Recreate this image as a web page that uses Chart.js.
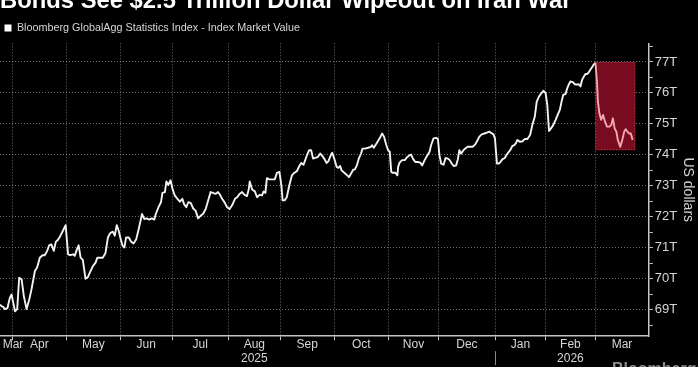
<!DOCTYPE html>
<html><head><meta charset="utf-8">
<script src="https://cdn.jsdelivr.net/npm/chart.js@4.4.1/dist/chart.umd.min.js"></script>
<style>
html,body{margin:0;padding:0;background:#000;overflow:hidden;}
#wrap{position:relative;width:698px;height:367px;background:#000;}
</style></head><body>
<div id="wrap"><canvas id="c"></canvas></div>
<script>
// ---- data (x = position in trading days since the start of the window) ----
const tradingDay = [0,0.7,1.3,2.0,3.0,4.0,4.7,5.4,6.1,7.0,
7.8,8.8,9.7,10.8,11.9,12.8,14.2,15.1,16.2,17.3,
18.2,19.2,20.0,20.9,21.9,22.7,23.6,24.6,25.6,26.7,
27.7,28.6,29.7,30.4,31.3,32.0,32.8,33.7,34.8,35.8,
36.7,37.8,38.9,39.6,40.5,41.8,42.9,43.9,44.8,45.9,
46.7,47.5,48.3,49.1,49.9,50.6,51.3,52.4,53.3,54.3,
55.4,56.3,57.8,58.7,59.6,60.7,61.8,62.8,63.4,64.5,
65.5,66.1,67.1,67.7,68.5,69.4,70.2,71.1,72.2,73.2,
74.2,74.9,75.8,76.6,77.6,78.6,79.6,80.6,81.7,82.6,
83.7,84.7,85.7,86.6,87.7,88.7,89.5,90.4,91.5,92.4,
93.4,94.5,95.6,96.5,97.5,98.5,99.5,100.5,101.2,101.6,
102.6,103.7,104.6,105.6,106.6,107.3,108.0,108.6,109.6,110.7,
111.8,112.7,113.7,114.5,115.0,115.8,116.7,117.7,118.8,119.7,
120.8,121.8,122.6,123.5,124.2,125.0,125.8,126.6,127.4,128.2,
129.3,130.3,130.9,131.9,132.9,133.6,134.7,135.2,136.0,137.0,
137.7,138.4,139.0,140.1,141.0,142.0,142.8,143.7,144.4,145.2,
146.0,146.9,147.5,148.5,149.8,150.9,151.4,152.1,153.2,154.6,
155.5,156.3,157.2,157.9,158.6,159.2,159.9,160.9,161.7,162.0,
162.6,163.6,164.7,165.7,166.7,167.3,168.0,169.0,170.1,171.0,
171.8,172.8,173.8,174.8,175.4,176.4,177.5,178.2,178.8,179.5,
180.5,181.3,182.2,183.0,183.8,184.6,185.6,186.3,186.9,187.6,
188.3,189.2,190.3,191.4,192.3,193.3,194.1,195.0,196.0,197.1,
198.1,199.1,200.0,200.8,201.4,202.2,203.1,203.8,204.5,205.4,
206.2,206.8,207.6,208.5,209.2,209.9,210.5,211.6,212.6,213.5,
214.6,215.7,216.6,217.6,218.4,219.3,220.3,221.1,222.0,222.7,
223.4,224.0,225.1,226.1,227.0,227.8,228.5,229.2,230.1,230.8,
231.5,232.1,233.1,233.9,234.8,235.5,236.2,236.9,237.6,238.2,
238.9,239.6,240.2,240.9,241.6,242.3,242.9,243.3,243.9,244.6,
245.4,246.1,247.0,247.9,248.7,249.4,250.1,250.8,251.4,252.4,
253.2,254.0,254.6,255.1,255.9,256.7,257.4];

const marketValueT = [69.16,69.11,69.09,69.02,69.05,69.38,69.49,69.22,68.95,69.02,
70.03,69.98,69.44,69.02,69.33,69.65,70.25,70.36,70.68,70.76,
70.76,70.90,71.08,71.11,70.90,71.19,71.26,71.39,71.55,71.73,
70.79,70.76,70.79,70.74,70.95,71.08,70.68,70.61,70.00,70.06,
70.22,70.41,70.52,70.68,70.68,70.68,70.82,71.33,71.47,71.52,
71.39,71.73,71.55,71.28,71.06,71.01,71.33,71.33,71.20,71.14,
71.27,71.56,72.09,71.93,71.95,71.91,71.95,71.91,72.09,72.31,
72.47,72.77,72.80,73.14,73.03,73.18,72.90,72.69,72.58,72.49,
72.58,72.41,72.31,72.47,72.45,72.27,72.20,71.95,72.04,72.09,
72.25,72.53,72.80,72.77,72.74,72.80,72.71,72.58,72.45,72.31,
72.25,72.38,72.58,72.63,72.74,72.80,72.71,72.67,72.88,73.14,
72.88,72.82,72.63,72.71,72.69,72.82,72.77,73.25,73.21,73.21,
73.21,73.42,73.45,73.01,72.53,72.53,72.63,73.01,73.34,73.42,
73.47,73.64,73.74,73.68,73.83,74.01,74.15,74.15,73.88,73.90,
73.93,74.04,73.99,73.88,73.74,73.79,74.01,74.07,73.88,73.61,
73.58,73.64,73.50,73.42,73.36,73.28,73.39,73.52,73.53,73.66,
73.88,74.04,74.20,74.20,74.23,74.26,74.31,74.23,74.37,74.55,
74.69,74.58,74.31,74.15,74.10,73.45,73.42,73.42,73.34,73.61,
73.75,73.83,73.83,73.93,73.99,74.01,73.88,73.77,73.77,73.75,
73.66,73.83,73.97,74.10,74.31,74.53,74.55,74.51,73.99,73.72,
73.68,73.90,73.88,73.83,73.72,73.64,73.66,73.86,74.15,74.04,
74.12,74.20,74.26,74.26,74.26,74.33,74.44,74.58,74.66,74.69,
74.72,74.75,74.70,74.66,74.53,73.72,73.72,73.79,73.86,73.90,
74.01,74.07,74.15,74.29,74.31,74.37,74.48,74.42,74.44,74.51,
74.51,74.64,74.96,75.23,75.72,75.88,75.99,76.07,75.99,75.61,
74.77,74.83,74.96,75.13,75.31,75.45,75.72,75.94,75.96,76.15,
76.28,76.37,76.35,76.28,76.27,76.28,76.21,76.43,76.53,76.61,
76.61,76.67,76.75,76.83,76.92,76.97,76.37,75.72,75.34,75.13,
75.29,75.09,74.91,74.91,74.96,75.18,74.85,74.75,74.48,74.26,
74.48,74.75,74.83,74.77,74.69,74.69,74.48];

const monthNames = ['Mar','Apr','May','Jun','Jul','Aug','Sep','Oct','Nov','Dec','Jan','Feb','Mar'];
const yearNames = ['','','','','','2025','','','','','','2026',''];
const monthBounds = [0,5,27,49,70,93,114,136,158,178.5,201.5,222,242.2,264];
const yTickValues = [68.5,69,69.5,70,70.5,71,71.5,72,72.5,73,73.5,74,74.5,75,75.5,76,76.5,77,77.5];

const titleText = 'Bonds See $2.5 Trillion Dollar Wipeout on Iran War';
const seriesName = 'Bloomberg GlobalAgg Statistics Index - Index Market Value';
const yAxisTitle = 'US dollars';
const watermark = 'Bloomberg';

// war period highlight (days / values)
const warStartDay = 242.2, warBoxEndDay = 258.5, warBoxHigh = 77.0, warBoxLow = 74.15;

// ---- styling ----
const FONT = 'Liberation Sans';
const gridCol = 'rgba(150,150,150,0.75)';
const axisCol = '#c4c4c4';
const textCol = '#d6d6d6';
const lineWhite = '#f2f2f2';
const linePink = '#f4a7b1';
const none = 'rgba(0,0,0,0)';

const boundaryTicks = monthBounds.slice(1, -1);
const labelTicks = monthNames.map((m, i) => {
  let mid = (monthBounds[i] + monthBounds[i + 1]) / 2;
  if (i === 0) mid = Math.max(mid, 5.3);
  return { value: mid, label: yearNames[i] ? [m, yearNames[i]] : m };
});
const isBoundary = v => boundaryTicks.some(b => Math.abs(b - v) < 1e-6);

const warBoxPlugin = {
  id: 'warBox',
  beforeDatasetsDraw(chart) {
    const { ctx, chartArea, scales: { x, y } } = chart;
    const x1 = x.getPixelForValue(warStartDay), x2 = x.getPixelForValue(warBoxEndDay);
    const y1 = y.getPixelForValue(warBoxHigh), y2 = y.getPixelForValue(warBoxLow);
    ctx.save();
    ctx.beginPath(); ctx.rect(chartArea.left, chartArea.top, chartArea.width, chartArea.height); ctx.clip();
    ctx.fillStyle = 'rgba(132,12,34,0.9)';
    ctx.fillRect(x1, y1, x2 - x1, y2 - y1);
    ctx.strokeStyle = 'rgba(205,70,90,0.9)';
    ctx.lineWidth = 1;
    ctx.setLineDash([1, 2]);
    ctx.strokeRect(x1 + 0.5, y1 + 0.5, x2 - x1 - 1, y2 - y1 - 1);
    ctx.restore();
  },
  afterDraw(chart) {
    const { ctx, scales: { x } } = chart;
    const sx = Math.round(x.getPixelForValue(monthBounds[10])) + 0.5;
    ctx.save();
    ctx.strokeStyle = '#8a8a8a';
    ctx.lineWidth = 1;
    ctx.beginPath(); ctx.moveTo(sx, x.top + 15); ctx.lineTo(sx, x.top + 29); ctx.stroke();
    ctx.fillStyle = '#8c8c8c';
    ctx.font = 'bold 16px ' + FONT;
    ctx.textBaseline = 'top';
    ctx.fillText(watermark, 612, 362);
    ctx.restore();
  }
};

new Chart(document.getElementById('c'), {
  type: 'line',
  data: {
    datasets: [{
      label: seriesName,
      data: tradingDay.map((d, i) => ({ x: d, y: marketValueT[i] })),
      borderColor: lineWhite,
      backgroundColor: '#ffffff',
      borderWidth: 1.9,
      pointRadius: 0,
      tension: 0,
      borderJoinStyle: 'round',
      segment: { borderColor: c => c.p0.parsed.x >= warStartDay ? linePink : lineWhite }
    }]
  },
  options: {
    responsive: true,
    maintainAspectRatio: false,
    devicePixelRatio: 1,
    animation: false,
    layout: { padding: { left: 0, right: 1, top: 0, bottom: 4 } },
    plugins: {
      title: {
        display: true, text: titleText, align: 'start', color: '#ffffff',
        font: { family: FONT, size: 23.8, weight: 'bold', lineHeight: 1.2 },
        padding: { top: -12.5, bottom: 2 }
      },
      legend: {
        display: true, align: 'start',
        labels: {
          color: textCol, boxWidth: 7, boxHeight: 7, padding: 4.5,
          font: { family: FONT, size: 10.8 },
          generateLabels: () => [{ text: seriesName, fillStyle: '#ffffff', strokeStyle: '#ffffff', lineWidth: 0, fontColor: textCol, datasetIndex: 0, hidden: false }]
        }
      },
      tooltip: { enabled: false }
    },
    scales: {
      x: {
        type: 'linear', position: 'bottom', min: 0, max: 264,
        afterBuildTicks: s => {
          s.ticks = boundaryTicks.map(v => ({ value: v })).concat(labelTicks.map(t => ({ value: t.value })))
            .sort((a, b) => a.value - b.value);
        },
        ticks: {
          autoSkip: false, maxRotation: 0, minRotation: 0, padding: -3, color: textCol,
          font: { family: FONT, size: 12 },
          callback: v => { const t = labelTicks.find(t => Math.abs(t.value - v) < 1e-6); return t ? t.label : ''; }
        },
        grid: {
          color: c => (c.tick && isBoundary(c.tick.value)) ? gridCol : none,
          tickColor: c => (c.tick && isBoundary(c.tick.value)) ? axisCol : none,
          tickLength: 4, lineWidth: 1, tickBorderDash: []
        },
        border: { display: true, color: axisCol, width: 1.5, dash: [1, 2] }
      },
      y: {
        type: 'linear', position: 'right', min: 68.145, max: 77.6,
        afterBuildTicks: s => { s.ticks = yTickValues.map(v => ({ value: v })); },
        ticks: {
          autoSkip: false, padding: 2, color: textCol,
          font: { family: FONT, size: 13 },
          callback: v => Number.isInteger(v) ? v + 'T' : ''
        },
        grid: {
          color: c => (c.tick && Number.isInteger(c.tick.value)) ? gridCol : none,
          tickColor: axisCol, tickLength: 4, lineWidth: 1, tickBorderDash: []
        },
        border: { display: true, color: axisCol, width: 1.5, dash: [1, 2] },
        title: { display: true, text: yAxisTitle, color: textCol, font: { family: FONT, size: 14 }, padding: { top: 1, bottom: 0 } }
      }
    }
  },
  plugins: [warBoxPlugin]
});
</script>
</body></html>
